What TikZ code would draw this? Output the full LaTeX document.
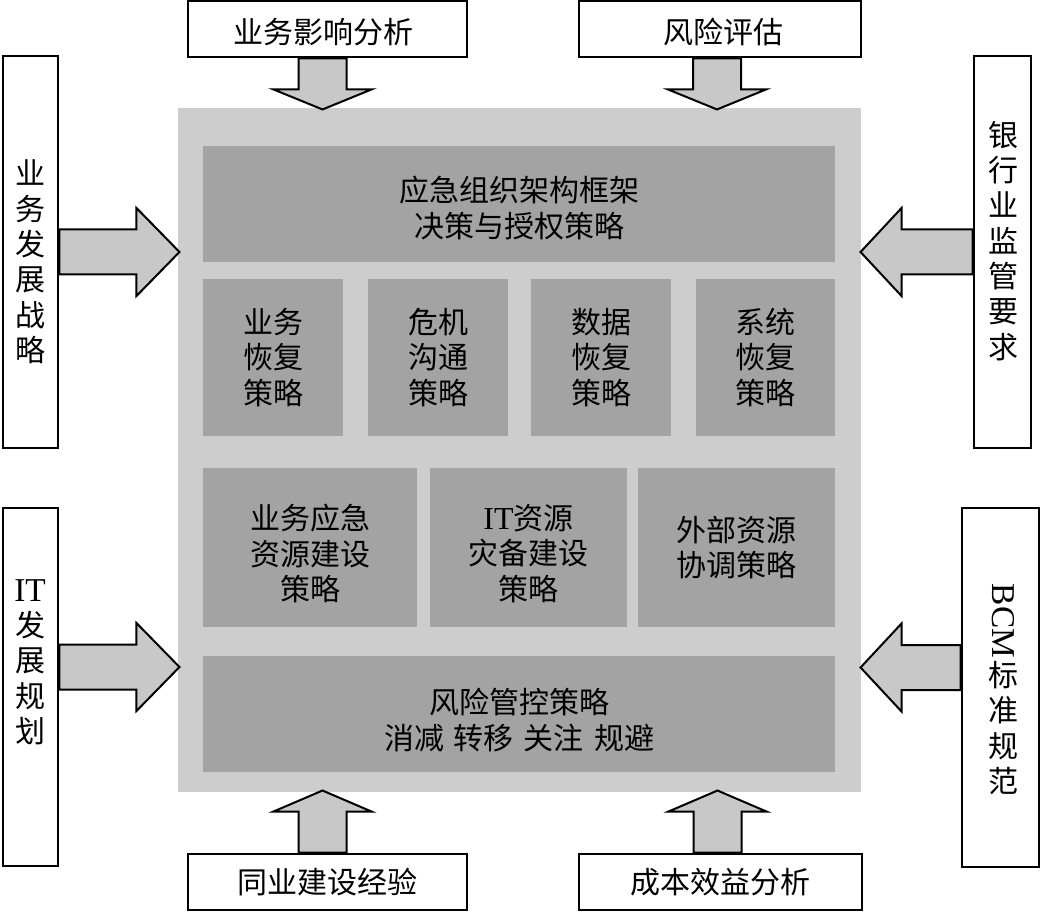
\documentclass[tikz,border=0pt]{standalone}
\usepackage{fontspec}
\setmainfont{Noto Sans CJK SC}
\newfontfamily\lat{Liberation Serif}
\usetikzlibrary{fit,calc}
\definecolor{outergray}{HTML}{CDCDCD}
\definecolor{innergray}{HTML}{A3A3A3}
\definecolor{arrgray}{HTML}{C8C8C8}
\tikzset{
  txt/.style={align=center, font=\fontsize{22.5pt}{26.5pt}\selectfont, inner sep=0pt},
  inbox/.style={fill=innergray, draw=none, inner sep=0pt},
  wbox/.style={fill=white, draw=black, line width=2.2pt, inner sep=0pt},
  arrowsty/.style={fill=arrgray, draw=black, line width=1.5pt, line join=miter},
}
% #1 start point, #2 angle, #3 total length, #4 head length, #5 shaft half width, #6 head half width
\newcommand{\blockarr}[6]{%
  \begin{scope}[shift={#1}, rotate=#2]
    \draw[arrowsty] (0,-#5) -- ({#3-#4},-#5) -- ({#3-#4},-#6) -- (#3,0) -- ({#3-#4},#6) -- ({#3-#4},#5) -- (0,#5) -- cycle;
  \end{scope}}
\begin{document}
\begin{tikzpicture}[x=0.75pt,y=-0.75pt]
\useasboundingbox (0,0) rectangle (1044,912);
% main panel
\node[fill=outergray, inner sep=0pt, fit={(178,108) (861,792)}] (main) {};
% inner boxes
\node[inbox, fit={(203,146) (835,262)}] (org) {};
\node[inbox, fit={(203,279) (343,436)}] (bizrec) {};
\node[inbox, fit={(368,279) (508,436)}] (crisis) {};
\node[inbox, fit={(531,279) (671,436)}] (datarec) {};
\node[inbox, fit={(696,279) (835,436)}] (sysrec) {};
\node[inbox, fit={(203,468) (417,627)}] (bizres) {};
\node[inbox, fit={(430,468) (627,627)}] (itres) {};
\node[inbox, fit={(638,468) (835,627)}] (extres) {};
\node[inbox, fit={(203,656) (835,772)}] (riskctl) {};
\node[txt] (orgtxt) at ($(org.center)+(0,4)$) {应急组织架构框架\\决策与授权策略};
\node[txt] (bizrectxt) at (bizrec.center) {业务\\恢复\\策略};
\node[txt] (crisistxt) at (crisis.center) {危机\\沟通\\策略};
\node[txt] (datarectxt) at (datarec.center) {数据\\恢复\\策略};
\node[txt] (sysrectxt) at (sysrec.center) {系统\\恢复\\策略};
\node[txt] (bizrestxt) at ($(bizres.center)+(0,6)$) {业务应急\\资源建设\\策略};
\node[txt] (itrestxt) at ($(itres.center)+(0,6)$) {{\lat\fontsize{24pt}{26.5pt}\selectfont IT}资源\\灾备建设\\策略};
\node[txt] (extrestxt) at (extres.center) {外部资源\\协调策略};
\node[txt] (riskctltxt) at ($(riskctl.center)+(0,6)$) {风险管控策略\\消减\,\,转移\,\,关注\,\,规避};
% outer white boxes
\node[wbox, fit={(188,1) (467,57)}] (bia) {};
\node[wbox, fit={(579,1) (861,57)}] (risk) {};
\node[wbox, fit={(188,854) (467,910)}] (peer) {};
\node[wbox, fit={(579,854) (862,910)}] (cost) {};
\node[wbox, fit={(3,56) (58,448)}] (strat) {};
\node[wbox, fit={(974,56) (1031,448)}] (reg) {};
\node[wbox, fit={(3,508) (58,866)}] (itplan) {};
\node[wbox, fit={(962,508) (1039,867)}] (bcm) {};
\node[txt] (biatxt) at ($(bia.center)+(-4,3)$) {业务影响分析};
\node[txt] (risktxt) at ($(risk.center)+(3,3)$) {风险评估};
\node[txt] (peertxt) at (peer.center) {同业建设经验};
\node[txt] (costtxt) at (cost.center) {成本效益分析};
% vertical texts
\node[txt] (strattxt) at (30,262) {业\\务\\发\\展\\战\\略};
\node[txt] (regtxt) at (1003,241) {银\\行\\业\\监\\管\\要\\求};
\node[txt] (ittxt) at (30,662) {{\lat\fontsize{25pt}{26.5pt}\selectfont IT}\\发\\展\\规\\划};
\node[inner sep=0pt, rotate=-90, font=\lat\fontsize{25pt}{26.5pt}\selectfont] (bcmlat) at (1003,621) {BCM};
\node[txt] (bcmtxt) at (1003,728) {标\\准\\规\\范};
% arrows
\blockarr{($(bia.south)+(-5,0)$)}{-90}{51}{20}{24}{49}
\blockarr{($(risk.south)+(-3,0)$)}{-90}{51}{20}{24}{49}
\blockarr{($(peer.north)+(-5,0)$)}{90}{62}{21}{24}{49}
\blockarr{($(cost.north)+(-3,0)$)}{90}{62}{21}{24}{49}
\blockarr{(strat.east)}{0}{120}{43}{22.5}{44}
\blockarr{($(itplan.east)+(0,-20)$)}{0}{120}{43}{22.5}{44}
\blockarr{(reg.west)}{180}{112}{41}{22.5}{44}
\blockarr{($(bcm.west)+(0,-20)$)}{180}{100}{41}{22.5}{44}
\end{tikzpicture}
\end{document}
